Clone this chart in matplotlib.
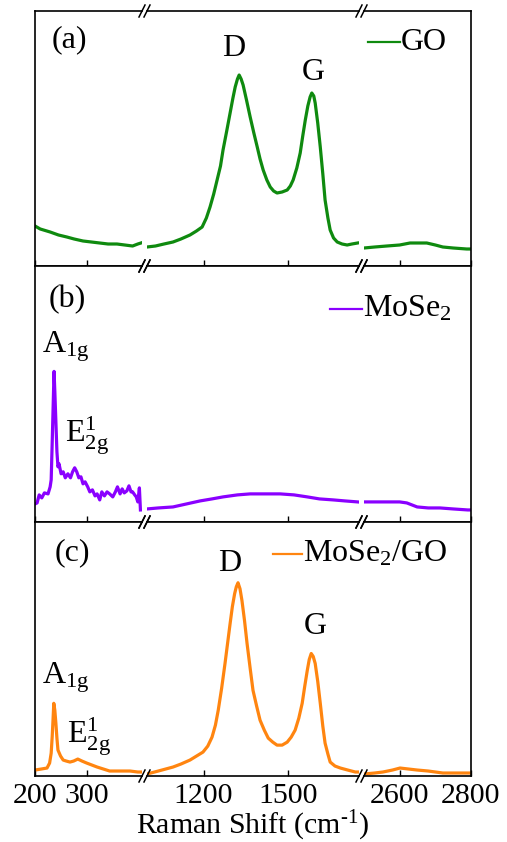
import matplotlib.pyplot as plt
from matplotlib.lines import Line2D

plt.rcParams["font.family"] = "Liberation Serif"
plt.rcParams["mathtext.fontset"] = "custom"
plt.rcParams["mathtext.rm"] = "Liberation Serif"
plt.rcParams["mathtext.it"] = "Liberation Serif:italic"

# broken x axis: three windows of the Raman shift
seg_limits = [(200, 405), (1000, 1750), (2500, 2800)]
seg_ticks = [[200, 300], [1200, 1500], [2600, 2800]]

# (a) GO
go_x1 = [200, 210, 229, 245, 261, 275, 292, 308, 324, 340, 357, 372, 387, 397, 403]
go_y1 = [40, 37, 34, 31, 29, 27, 25, 24, 23, 22, 22, 21, 20, 22, 23]
go_x2 = [1000, 1030, 1060, 1092, 1120, 1152, 1175, 1195, 1210, 1223, 1236, 1248, 1260,
         1269, 1282, 1294, 1304, 1312, 1320, 1326, 1333, 1340, 1352, 1365, 1378, 1390,
         1400, 1411, 1424, 1436, 1448, 1460, 1478, 1496, 1507, 1517, 1530, 1542, 1551,
         1560, 1569, 1577, 1583, 1590, 1595, 1604, 1613, 1622, 1630, 1640, 1648, 1660,
         1673, 1690, 1708, 1725, 1745]
go_y2 = [19, 20, 22, 24, 27, 31, 35, 39, 48, 59, 72, 86, 100, 116, 135, 153, 168, 179,
         187, 191, 187, 181, 166, 149, 133, 119, 107, 96, 86, 79, 75, 73, 74, 76, 80, 86,
         98, 113, 130, 146, 160, 169, 173, 170, 163, 143, 119, 92, 66, 48, 36, 28, 24, 22,
         21, 22, 23]
go_x3 = [2500, 2530, 2564, 2600, 2629, 2650, 2676, 2700, 2721, 2750, 2788, 2800]
go_y3 = [18, 19, 20, 21, 23, 23, 23, 21, 19, 18, 17, 17]

# (b) MoSe2
mo_x1 = [200, 204, 208, 213, 218, 225, 229, 231, 233, 235, 236.5, 238, 240, 242, 244,
         246, 250, 254, 258, 263, 268, 272, 276, 280, 284, 288, 292, 296, 301, 305, 310,
         315, 319, 324, 328, 333, 338, 343, 349, 354, 358, 363, 367, 371, 376, 380, 384,
         387, 391, 394, 397, 400, 402]
mo_y1 = [18, 19, 27, 24, 29, 28, 35, 42, 80, 120, 150, 130, 100, 70, 55, 58, 48, 50, 44,
         48, 44, 50, 54, 50, 44, 45, 38, 40, 35, 30, 32, 26, 28, 22, 30, 26, 30, 28, 25,
         30, 35, 28, 33, 29, 31, 36, 30, 30, 27, 25, 20, 34, 12]
mo_x2 = [1000, 1040, 1092, 1140, 1188, 1230, 1269, 1320, 1365, 1420, 1471, 1520, 1567,
         1610, 1659, 1700, 1745]
mo_y2 = [13, 14, 15, 18, 21, 23, 25, 27, 28, 28, 28, 27, 25, 23, 22, 21, 20]
mo_x3 = [2500, 2530, 2564, 2600, 2620, 2649, 2680, 2713, 2750, 2791, 2800]
mo_y3 = [20, 20, 20, 20, 19, 15, 14, 14, 13, 12, 12]

# (c) MoSe2/GO
mg_x1 = [200, 212, 223, 228, 231, 233, 234.5, 236, 238, 240, 242, 244, 249, 254, 260,
         267, 274, 282, 290, 299, 309, 319, 331, 343, 355, 368, 382, 397, 403]
mg_y1 = [6, 7, 8, 13, 23, 40, 56, 73, 66, 53, 38, 26, 20, 16, 15, 14, 15, 17, 15, 13, 11,
         9, 7, 5, 5, 5, 5, 4, 4]
mg_x2 = [1000, 1040, 1092, 1120, 1152, 1175, 1198, 1215, 1230, 1242, 1252, 1264, 1276,
         1285, 1294, 1302, 1310, 1316, 1322, 1329, 1336, 1345, 1354, 1365, 1375, 1388,
         1400, 1415, 1429, 1445, 1460, 1478, 1496, 1510, 1524, 1537, 1549, 1558, 1567,
         1574, 1581, 1588, 1595, 1604, 1613, 1622, 1630, 1640, 1648, 1665, 1684, 1710,
         1737, 1750]
mg_y2 = [2, 5, 9, 12, 16, 20, 24, 30, 39, 51, 66, 88, 113, 133, 153, 170, 183, 190, 194,
         188, 176, 156, 133, 108, 86, 70, 56, 46, 38, 34, 31, 31, 34, 39, 46, 58, 73, 90,
         106, 117, 123, 120, 113, 95, 73, 50, 33, 22, 14, 10, 8, 6, 4, 4]
mg_x3 = [2500, 2530, 2553, 2580, 2601, 2625, 2649, 2680, 2721, 2760, 2797, 2800]
mg_y3 = [2, 3, 4, 6, 8, 7, 6, 5, 3, 3, 3, 3]

spectra = [
    ([(go_x1, go_y1), (go_x2, go_y2), (go_x3, go_y3)], "#0f8a0f", "GO"),
    ([(mo_x1, mo_y1), (mo_x2, mo_y2), (mo_x3, mo_y3)], "#8a00ff", r"MoSe$_2$"),
    ([(mg_x1, mg_y1), (mg_x2, mg_y2), (mg_x3, mg_y3)], "#ff8510", r"MoSe$_2$/GO"),
]

W, H = 507, 842
seg_px = [(35, 142), (147, 359), (364, 471)]
row_px = [(11, 266), (266, 522), (522, 776)]
FS = 23


def fx(px):
    return px / W


def fy(py):
    return 1 - py / H


fig = plt.figure(figsize=(W / 100, H / 100), dpi=100)
axes = []
for r, (segments, color, name) in enumerate(spectra):
    top, bottom = row_px[r]
    row = []
    for s, (xs, ys) in enumerate(segments):
        left, right = seg_px[s]
        ax = fig.add_axes([fx(left), fy(bottom), (right - left) / W, (bottom - top) / H])
        ax.plot(xs, ys, color=color, lw=2.3, solid_joinstyle="round")
        ax.set_xlim(*seg_limits[s])
        ax.set_ylim(0, 255)
        ax.set_yticks([])
        ax.set_xticks(seg_ticks[s])
        ax.tick_params(axis="x", direction="in", length=4.5, width=1, pad=5,
                       labelsize=21.5, labelbottom=(r == 2))
        for side in ax.spines.values():
            side.set_linewidth(1.2)
        ax.spines["left"].set_visible(s == 0)
        ax.spines["right"].set_visible(s == 2)
        row.append(ax)
    axes.append(row)

    # slashes marking the axis breaks
    for py in (top, bottom):
        for gx in (142, 147, 359, 364):
            fig.add_artist(Line2D([fx(gx - 3), fx(gx + 3)], [fy(py + 6), fy(py - 6)],
                                  color="black", lw=1.1))

# panel tags and legends
fig.text(fx(69), fy(40), "(a)", fontsize=FS, ha="center", va="center")
fig.text(fx(67), fy(300), "(b)", fontsize=FS, ha="center", va="center")
fig.text(fx(72), fy(553), "(c)", fontsize=FS, ha="center", va="center")

legend_pos = [(368, 400, 42), (330, 362, 309), (273, 302, 554)]
for (x0, x1, py), (_, color, name) in zip(legend_pos, spectra):
    fig.add_artist(Line2D([fx(x0), fx(x1)], [fy(py), fy(py)], color=color, lw=1.6))
    fig.text(fx(x1 + 1), fy(py), name, fontsize=FS, ha="left", va="center")

# peak assignments
axes[0][1].text(1305, 218, "D", fontsize=FS, ha="center", va="center")
axes[0][1].text(1588, 194, "G", fontsize=FS, ha="center", va="center")
axes[1][0].text(213, 169, r"A$_{\mathrm{1g}}$", fontsize=FS, ha="left", va="baseline")
axes[1][0].text(257, 79, r"E$^{\mathrm{1}}_{\mathrm{2g}}$", fontsize=FS, ha="left", va="baseline")
axes[2][1].text(1294, 213, "D", fontsize=FS, ha="center", va="center")
axes[2][1].text(1595, 150, "G", fontsize=FS, ha="center", va="center")
axes[2][0].text(213, 93, r"A$_{\mathrm{1g}}$", fontsize=FS, ha="left", va="baseline")
axes[2][0].text(261, 33, r"E$^{\mathrm{1}}_{\mathrm{2g}}$", fontsize=FS, ha="left", va="baseline")

fig.text(fx(253), fy(826), r"Raman Shift (cm$^{\text{-}1}$)", fontsize=21.5,
         ha="center", va="center")

fig.savefig("out.png", dpi=100)
